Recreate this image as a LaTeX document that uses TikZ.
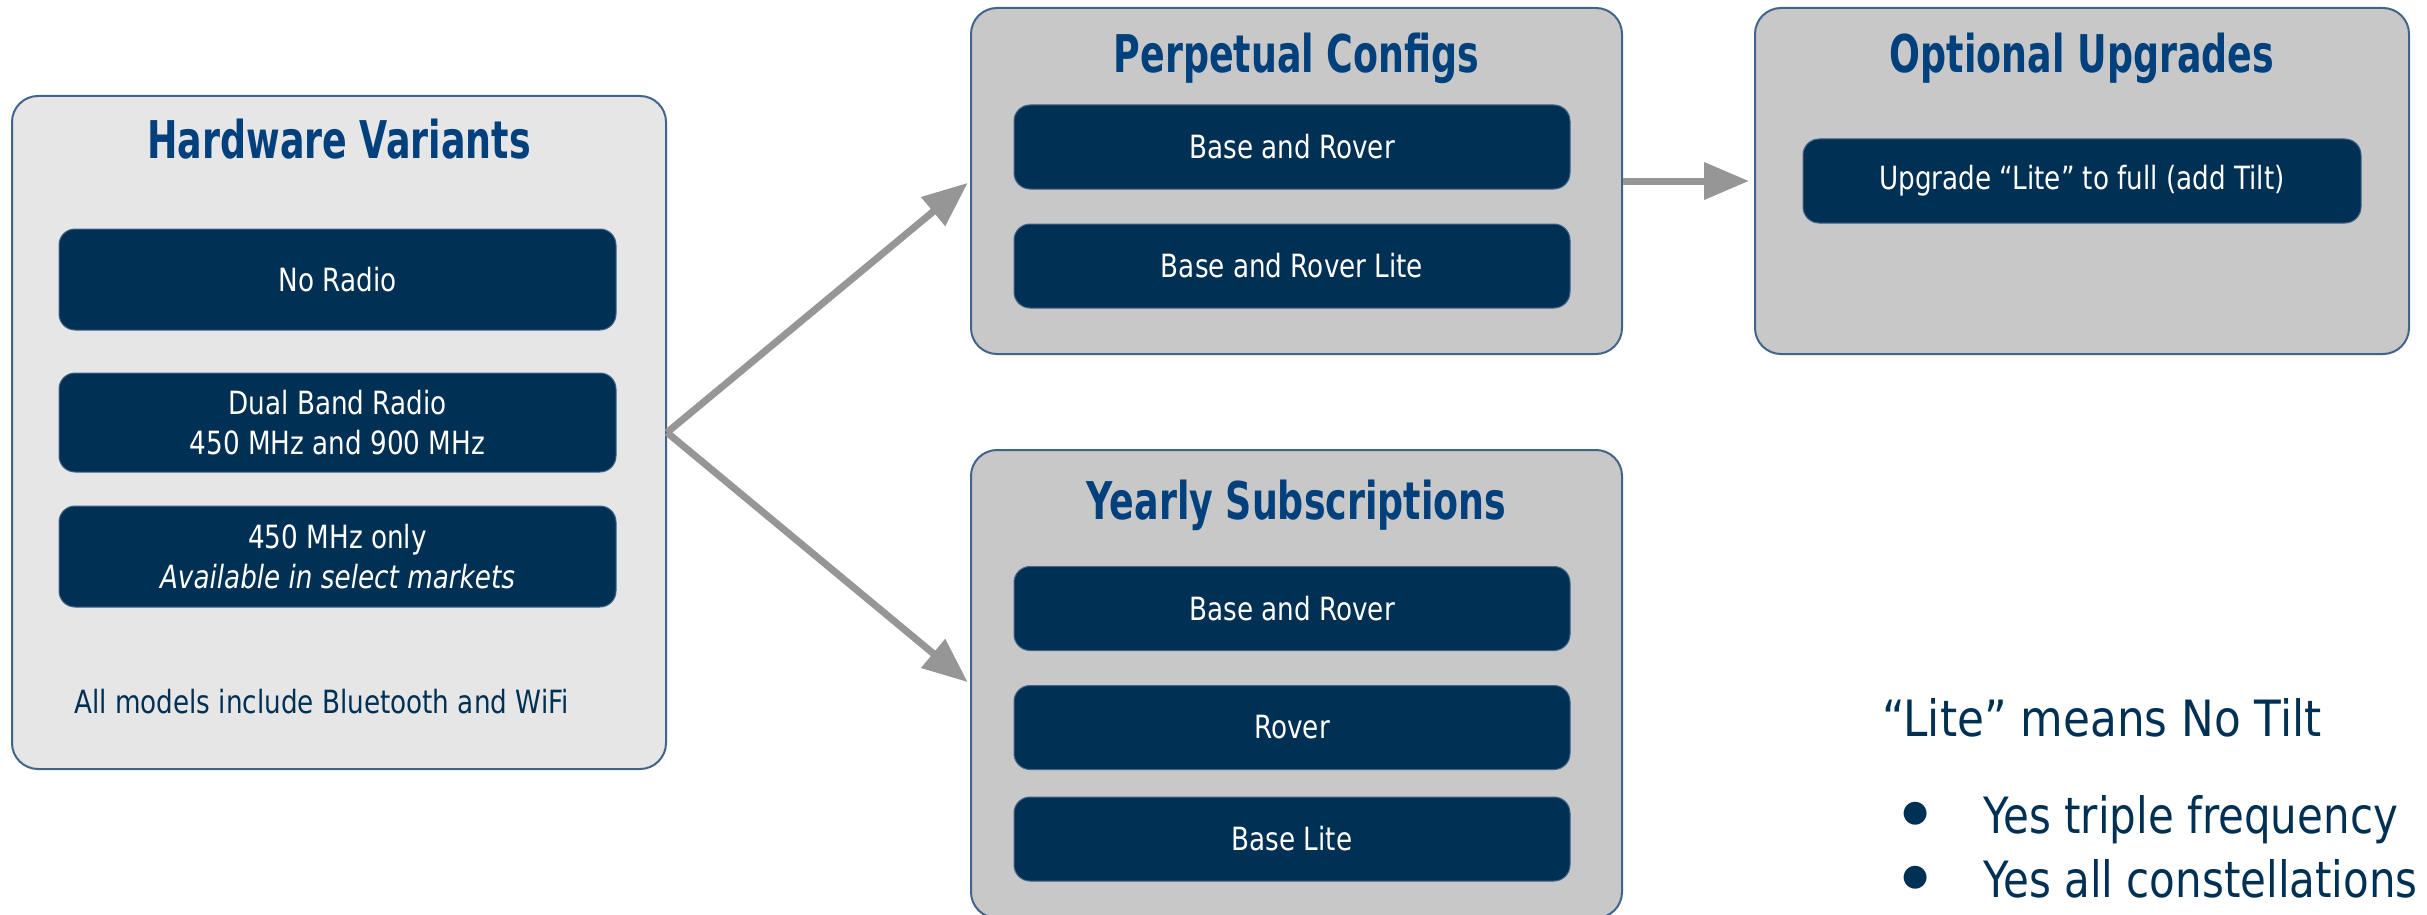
\documentclass[tikz,border=0pt]{standalone}
\usepackage{fontspec}
\setmainfont{DejaVu Sans}
\newfontfamily\bodyf[FakeStretch=0.82]{DejaVu Sans}
\newfontfamily\titlef[FakeStretch=0.70]{DejaVu Sans}
\newfontfamily\notef[FakeStretch=0.84]{DejaVu Sans}
\newfontfamily\litef[FakeStretch=0.875]{DejaVu Sans}
\usetikzlibrary{arrows.meta}
\definecolor{navy}{RGB}{0,48,84}
\definecolor{titleblue}{RGB}{0,64,124}
\definecolor{edgeblue}{RGB}{65,100,138}
\definecolor{lightpanel}{RGB}{230,230,230}
\definecolor{greypanel}{RGB}{200,200,200}
\definecolor{arrowgrey}{RGB}{150,150,150}
\tikzset{
  panel/.style={draw=edgeblue, line width=2pt, rounded corners=26pt, inner sep=0pt},
  itembox/.style={fill=navy, draw=edgeblue, line width=1pt, rounded corners=16pt, inner sep=0pt,
    text=white, align=center, font=\bodyf\fontsize{32}{40}\selectfont},
  paneltitle/.style={anchor=base, inner sep=0pt, text=titleblue, font=\titlef\bfseries\fontsize{52}{60}\selectfont},
  conn/.style={draw=arrowgrey, line width=7pt, -{Triangle[length=45pt,width=36pt]}},
  notetext/.style={anchor=base west, inner sep=0pt, text=navy, font=\notef\fontsize{50}{60}\selectfont},
  bulletmark/.style={text=navy, inner sep=0pt, font=\fontsize{30}{36}\selectfont},
}
\begin{document}
\begin{tikzpicture}[x=1pt,y=-1pt]
\useasboundingbox (0,0) rectangle (2427,915);
% panels
\node[panel, fill=lightpanel, minimum width=654pt, minimum height=673pt] (hw) at (339,432.5) {};
\node[panel, fill=greypanel, minimum width=651pt, minimum height=346pt] (perp) at (1296.5,181) {};
\node[panel, fill=greypanel, minimum width=654pt, minimum height=346pt] (opt) at (2082,181) {};
\node[panel, fill=greypanel, minimum width=651pt, minimum height=468pt] (yearly) at (1296.5,684) {};
% titles
\node[paneltitle] (hwt) at (339,158) {Hardware Variants};
\node[paneltitle] (perpt) at (1296.5,73) {Perpetual Configs};
\node[paneltitle] (optt) at (2082,73) {Optional Upgrades};
\node[paneltitle] (yeart) at (1296.5,519) {Yearly Subscriptions};
% hardware items
\node[itembox, minimum width=557pt, minimum height=101pt] (noradio) at (337.5,279.5) {No Radio};
\node[itembox, minimum width=557pt, minimum height=99pt] (dual) at (337.5,422.5) {Dual Band Radio\\450 MHz and 900 MHz};
\node[itembox, minimum width=557pt, minimum height=101pt] (single) at (337.5,556.5) {450 MHz only\\\itshape Available in select markets};
\node[anchor=base west, inner sep=0pt, text=navy, font=\bodyf\fontsize{32}{40}\selectfont] (allmodels) at (74,713) {All models include Bluetooth and WiFi};
% perpetual items
\node[itembox, minimum width=556pt, minimum height=84pt] (pbr) at (1292,147) {Base and Rover};
\node[itembox, minimum width=556pt, minimum height=84pt] (pbrl) at (1292,266) {Base and Rover Lite};
% optional item
\node[itembox, minimum width=558pt, minimum height=84pt] (upg) at (2082,181) {Upgrade “Lite” to full (add Tilt)};
% yearly items
\node[itembox, minimum width=556pt, minimum height=84pt] (ybr) at (1292,608.5) {Base and Rover};
\node[itembox, minimum width=556pt, minimum height=84pt] (yr) at (1292,727.5) {Rover};
\node[itembox, minimum width=556pt, minimum height=84pt] (ybl) at (1292,839) {Base Lite};
% connectors
\draw[conn, shorten >=3pt] (hw.east) -- (perp.west);
\draw[conn, shorten >=3pt] (hw.east) -- (yearly.west);
\draw[conn, shorten >=5pt] (perp.east) -- (opt.west);
% note
\node[notetext, font=\litef\fontsize{50}{60}\selectfont] (lite) at (1882,736) {“Lite” means No Tilt};
\node[bulletmark] (b1) at (1916,814) {●};
\node[notetext] (l1) at (1983,833) {Yes triple frequency};
\node[bulletmark] (b2) at (1916,878) {●};
\node[notetext] (l2) at (1983,897) {Yes all constellations};
\end{tikzpicture}
\end{document}
